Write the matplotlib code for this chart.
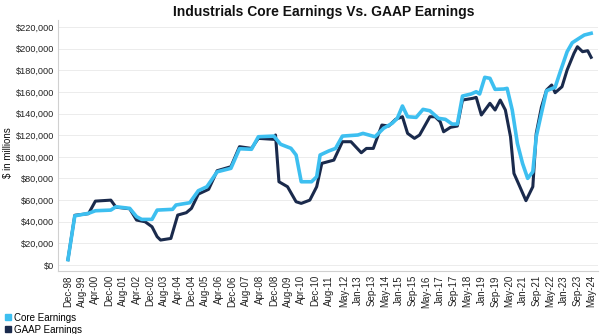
import matplotlib
matplotlib.use("Agg")
import matplotlib.pyplot as plt
from matplotlib.lines import Line2D
from matplotlib.ticker import FuncFormatter

plt.rcParams['font.family'] = ['Liberation Sans', 'DejaVu Sans']

# x values: months since Dec-98
core_months = [0, 4, 12, 16, 25, 28, 36, 40, 43, 49, 52, 61, 63, 71, 76, 81, 87, 95, 100,
               107, 111, 120, 124, 130, 133, 136, 142, 145, 147, 152, 156, 160, 169, 172,
               179, 184, 189, 192, 195, 198, 203, 207, 211, 216, 220, 224, 227, 230, 235,
               238, 240, 243, 246, 249, 254, 256, 259, 262, 265, 268, 271, 273, 276, 279,
               284, 287, 291, 294, 298, 301, 305]
core_values = [5000, 45500, 47800, 50200, 50800, 53900, 52400, 44700, 42200, 42200, 50800,
               51500, 55500, 57600, 68700, 72400, 86200, 89400, 107500,
               107000, 118600, 119200, 111600, 107900, 101700, 77000, 77000, 81600, 101700,
               105400, 107800, 119200, 120200, 121700,
               118600, 126400, 131000, 135600, 147000, 137100, 136500, 143900, 142600,
               135600, 134700, 130300, 130300, 156200, 158100,
               160200, 158100, 173500, 172600, 162400, 162700, 163300, 143300, 112500,
               94000, 80100, 86200, 118600, 140200, 161100,
               164300, 178700, 197200, 205500, 209600, 212600, 214200]

gaap_months = [0, 4, 12, 16, 25, 28, 36, 40, 45, 49, 52, 54, 60, 64, 69, 72, 76, 82, 87, 95,
               100, 107, 111, 120, 121, 123, 128, 133, 136, 141, 145, 148, 155, 160, 165,
               171, 174, 178, 183, 187, 191, 195, 198, 202, 205, 211, 214, 217, 219, 223,
               227, 230, 236, 238, 241, 246, 249, 252, 255, 258, 260, 263, 267, 271, 273,
               276, 279, 282, 284, 288, 291, 295, 297, 300, 303, 305]
gaap_values = [5000, 46000, 47500, 59100, 60000, 53500, 52000, 41600, 40000, 35400, 26200,
               23100, 24600, 46200, 48400, 52400, 65600, 70000, 87200, 90900,
               109400, 107800, 117100, 116200, 120200, 77000, 72400, 58500, 57000, 60000,
               72400, 94000, 97000, 114000, 114000,
               103800, 107800, 107800, 129400, 128500, 134700, 137100, 121700, 117100,
               120200, 137100, 137100, 132500, 123200, 127300,
               128500, 152500, 154100, 155000, 138700, 149500, 143300, 152500, 143300,
               118600, 84700, 74000, 59500, 72400, 121700,
               145800, 161800, 166400, 159300, 164800, 180300, 195700, 201800, 197200,
               198100, 192000]

tick_labels = ["Dec-98", "Aug-99", "Apr-00", "Dec-00", "Aug-01", "Apr-02", "Dec-02", "Aug-03",
               "Apr-04", "Dec-04", "Aug-05", "Apr-06", "Dec-06", "Aug-07", "Apr-08", "Dec-08",
               "Aug-09", "Apr-10", "Dec-10", "Aug-11", "May-12", "Jan-13", "Sep-13", "May-14",
               "Jan-15", "Sep-15", "May-16", "Jan-17", "Sep-17", "May-18", "Jan-19", "Sep-19",
               "May-20", "Jan-21", "Sep-21", "May-22", "Jan-23", "Sep-23", "May-24"]
tick_months = [8 * i if i <= 19 else 8 * i + 1 for i in range(len(tick_labels))]

yticks = list(range(0, 220001, 20000))

core_color = "#3dbff0"
gaap_color = "#1a2a4c"

fig = plt.figure(figsize=(6.0, 3.34), dpi=100)
ax = fig.add_axes([58 / 600, (334 - 271) / 334, (598 - 58) / 600, (271 - 20) / 334])

ax.plot(gaap_months, gaap_values, color=gaap_color, lw=2.2, solid_joinstyle='round', zorder=3)
ax.plot(core_months, core_values, color=core_color, lw=2.6, solid_joinstyle='round', zorder=4)

ax.set_xlim(-5.8, 309)
ax.set_ylim(-5500, 226500)
ax.set_yticks(yticks)
ax.yaxis.set_major_formatter(FuncFormatter(lambda v, p: f"${int(v):,}"))
ax.set_xticks(tick_months)
ax.set_xticklabels(tick_labels, rotation=90, fontsize=7, color="#222222")
ax.tick_params(axis='y', labelsize=6.6, labelcolor="#222222", length=0, pad=3)
ax.tick_params(axis='x', length=0, pad=3)
ax.grid(axis='y', color="#ececec", lw=0.7)
ax.set_axisbelow(True)
for s in ("top", "right"):
    ax.spines[s].set_visible(False)
for s in ("left", "bottom"):
    ax.spines[s].set_color("#d0d0d0")
    ax.spines[s].set_linewidth(0.8)

ax.set_ylabel("$ in millions", fontsize=7, color="#111111")
ax.yaxis.set_label_coords(-0.083, 0.47)

fig.text(0.54, 0.963, "Industrials Core Earnings Vs. GAAP Earnings", ha='center', va='center',
         fontsize=10, fontweight='bold', color="#111111")

handles = [Line2D([], [], marker='s', ls='', color=core_color, markersize=4),
           Line2D([], [], marker='s', ls='', color=gaap_color, markersize=4)]
fig.legend(handles, ["Core Earnings", "GAAP Earnings"], loc='lower left',
           bbox_to_anchor=(-0.005, -0.02), frameon=False, fontsize=7,
           handletextpad=0.1, labelspacing=0.2, handlelength=1.0, borderaxespad=0.2)

fig.savefig("out.png", dpi=100)
